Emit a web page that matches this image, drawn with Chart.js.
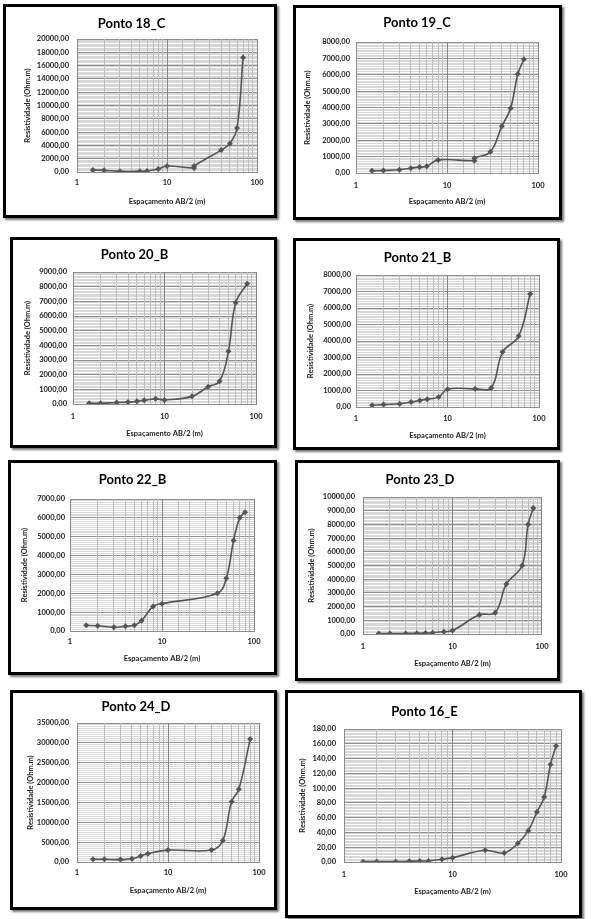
<!DOCTYPE html>
<html>
<head>
<meta charset="utf-8">
<script src="https://cdn.jsdelivr.net/npm/chart.js@4.4.1/dist/chart.umd.min.js"></script>
<style>
body { margin: 0; background: #fff; width: 591px; height: 919px; position: relative; overflow: hidden; }
.box { position: absolute; box-sizing: border-box; border: 3px solid #000; background: #fff; box-shadow: 2px 2px 2px #777; }
</style>
</head>
<body>
<script>
// DADOS (AB/2 em m, resistividade em Ohm.m)
const ab18 = [1.5, 2, 3, 5, 6, 8, 10, 20, 20, 40, 50, 60, 70];
const rho18 = [300, 250, 100, 100, 150, 450, 900, 600, 900, 3300, 4300, 6600, 17200];

const ab19 = [1.5, 2, 3, 4, 5, 6, 8, 20, 20, 30, 40, 50, 60, 70];
const rho19 = [130, 150, 200, 290, 370, 410, 800, 750, 900, 1300, 2850, 3950, 6050, 6950];

const ab20 = [1.5, 2, 3, 4, 5, 6, 8, 10, 20, 30, 40, 50, 60, 80];
const rho20 = [50, 50, 100, 130, 180, 250, 350, 280, 520, 1180, 1550, 3600, 6900, 8200];

const ab21 = [1.5, 2, 3, 4, 5, 6, 8, 10, 20, 30, 40, 60, 80];
const rho21 = [100, 150, 200, 300, 400, 470, 600, 1080, 1100, 1150, 3330, 4300, 6850];

const ab22 = [1.5, 2, 3, 4, 5, 6, 8, 10, 40, 50, 60, 70, 80];
const rho22 = [300, 280, 200, 250, 300, 550, 1300, 1450, 2000, 2800, 4800, 6000, 6300];

const ab23 = [1.5, 2, 3, 4, 5, 6, 8, 10, 20, 30, 40, 60, 70, 80];
const rho23 = [30, 30, 40, 50, 70, 90, 170, 250, 1400, 1560, 3650, 5000, 8000, 9200];

const ab24 = [1.5, 2, 3, 4, 5, 6, 10, 30, 40, 50, 60, 80];
const rho24 = [700, 700, 600, 800, 1500, 2100, 3000, 3000, 5400, 15200, 18300, 31000];

const ab16 = [1.5, 2, 3, 4, 5, 6, 8, 10, 20, 30, 40, 50, 60, 70, 80, 90];
const rho16 = [0.5, 0.5, 0.5, 1, 1.3, 1.5, 3.6, 5.9, 15.8, 12.2, 25.3, 42.4, 67.7, 88, 132, 157];

// TICKS DO EIXO X (log) E LIMITES DO EIXO Y
const xTickLabels = [1, 10, 100];
const yMaximos = [20000, 8000, 9000, 8000, 7000, 10000, 35000, 180];
const yPassos = [2000, 1000, 1000, 1000, 1000, 1000, 5000, 20];
const titulos = ['Ponto 18_C', 'Ponto 19_C', 'Ponto 20_B', 'Ponto 21_B', 'Ponto 22_B', 'Ponto 23_D', 'Ponto 24_D', 'Ponto 16_E'];
const series = [[ab18, rho18], [ab19, rho19], [ab20, rho20], [ab21, rho21], [ab22, rho22], [ab23, rho23], [ab24, rho24], [ab16, rho16]];

// POSIÇÃO DE CADA QUADRO NA PÁGINA (caixa, área do gráfico e textos)
const quadros = [
    { box: [3, 4, 277, 218], plot: [77, 39, 257, 172], tituloY: 24, labX: 183, tituloX: 202, tituloEixoY: 28, labY: 69 },
    { box: [293, 5, 562, 220], plot: [356, 42, 538, 173], tituloY: 23, labX: 186, tituloX: 202, tituloEixoY: 308, labY: 350 },
    { box: [10, 237, 277, 448], plot: [73, 272, 256, 404], tituloY: 255, labX: 417, tituloX: 434, tituloEixoY: 28, labY: 67 },
    { box: [293, 238, 560, 450], plot: [356, 275, 539, 407], tituloY: 258, labX: 419, tituloX: 436, tituloEixoY: 311, labY: 351 },
    { box: [8, 460, 277, 675], plot: [70, 499, 254, 631], tituloY: 480, labX: 642, tituloX: 659, tituloEixoY: 25, labY: 65 },
    { box: [295, 460, 560, 681], plot: [363, 497, 542, 634], tituloY: 480, labX: 647, tituloX: 664, tituloEixoY: 312, labY: 355 },
    { box: [10, 690, 277, 910], plot: [77, 723, 259, 862], tituloY: 707, labX: 873, tituloX: 891, tituloEixoY: 31, labY: 69 },
    { box: [285, 690, 582, 918], plot: [344, 729, 561, 862], tituloY: 712, labX: 875, tituloX: 892, tituloEixoY: 303, labY: 336 }
];

const fonteTick = { family: 'Lato', size: 7.5, weight: 'bold' };
const fonteEixo = { family: 'Lato', size: 7.5, weight: 'bold' };

function formatar(v) {
    return v.toFixed(2).replace('.', ',');
}

function ehDecada(v) {
    const m = Math.log10(v);
    return Math.abs(m - Math.round(m)) < 1e-9;
}

function desenharGrafico(i) {
    const q = quadros[i];
    const [xs, ys] = series[i];
    const yMax = yMaximos[i];
    const passo = yPassos[i];

    const div = document.createElement('div');
    div.className = 'box';
    div.style.left = q.box[0] + 'px';
    div.style.top = q.box[1] + 'px';
    div.style.width = (q.box[2] - q.box[0]) + 'px';
    div.style.height = (q.box[3] - q.box[1]) + 'px';
    const canvas = document.createElement('canvas');
    div.appendChild(canvas);
    document.body.appendChild(div);

    // BORDAS INTERNAS DO QUADRO
    const iL = q.box[0] + 3, iT = q.box[1] + 3, iR = q.box[2] - 3, iB = q.box[3] - 3;
    const lhTitulo = 13 * 1.2;
    const lhTick = 7.5 * 1.2;
    const padTop = q.tituloY - iT - lhTitulo / 2;
    const padBottom = (q.plot[1] - iT) - padTop - lhTitulo;
    const larguraY = q.plot[0] - iL;
    const alturaX = iB - q.plot[3];
    const ehMaior = v => Math.abs(v / passo - Math.round(v / passo)) < 1e-6;

    new Chart(canvas, {
        type: 'line',
        data: {
            datasets: [{
                data: xs.map((x, k) => ({ x: x, y: ys[k] })),
                borderColor: '#555',
                backgroundColor: '#555',
                borderWidth: 1.6,
                pointStyle: 'rectRot',
                pointRadius: 3,
                pointBorderWidth: 0,
                tension: 0.4
            }]
        },
        options: {
            responsive: true,
            maintainAspectRatio: false,
            animation: false,
            layout: { padding: { left: 0, top: 0, right: iR - q.plot[2], bottom: 0 } },
            plugins: {
                legend: { display: false },
                tooltip: { enabled: false },
                title: {
                    display: true,
                    text: titulos[i],
                    color: '#000',
                    font: { family: 'Lato', size: 13, weight: 'bold' },
                    padding: { top: padTop, bottom: padBottom }
                }
            },
            scales: {
                x: {
                    type: 'logarithmic',
                    min: 1,
                    max: 100,
                    grid: {
                        z: -1,
                        drawTicks: false,
                        color: c => (c.tick && ehDecada(c.tick.value)) ? '#858585' : '#bdbdbd'
                    },
                    border: { color: '#8a8a8a' },
                    ticks: {
                        autoSkip: false,
                        maxRotation: 0,
                        padding: q.labX - q.plot[3] - lhTick / 2,
                        color: '#222',
                        font: fonteTick,
                        callback: v => xTickLabels.includes(Math.round(v)) && ehDecada(v) ? String(Math.round(v)) : ''
                    },
                    title: {
                        display: true,
                        text: 'Espaçamento AB/2 (m)',
                        color: '#222',
                        font: fonteEixo,
                        padding: { top: 0, bottom: iB - q.tituloX - lhTick / 2 }
                    },
                    afterFit: s => { s.height = alturaX; }
                },
                y: {
                    min: 0,
                    max: yMax,
                    grid: {
                        z: -2,
                        drawTicks: false,
                        color: c => (c.tick && ehMaior(c.tick.value)) ? '#909090' : '#d8d8d8'
                    },
                    border: { color: '#8a8a8a' },
                    ticks: {
                        stepSize: passo / 10,
                        autoSkip: false,
                        padding: q.plot[0] - q.labY,
                        color: '#222',
                        font: fonteTick,
                        callback: v => ehMaior(v) ? formatar(v) : ''
                    },
                    title: {
                        display: true,
                        text: 'Resistividade (Ohm.m)',
                        color: '#222',
                        font: fonteEixo,
                        padding: { top: q.tituloEixoY - iL - lhTick / 2, bottom: 0 }
                    },
                    afterFit: s => { s.width = larguraY; }
                }
            }
        }
    });
}

for (let i = 0; i < quadros.length; i++) {
    desenharGrafico(i);
}
</script>
</body>
</html>
